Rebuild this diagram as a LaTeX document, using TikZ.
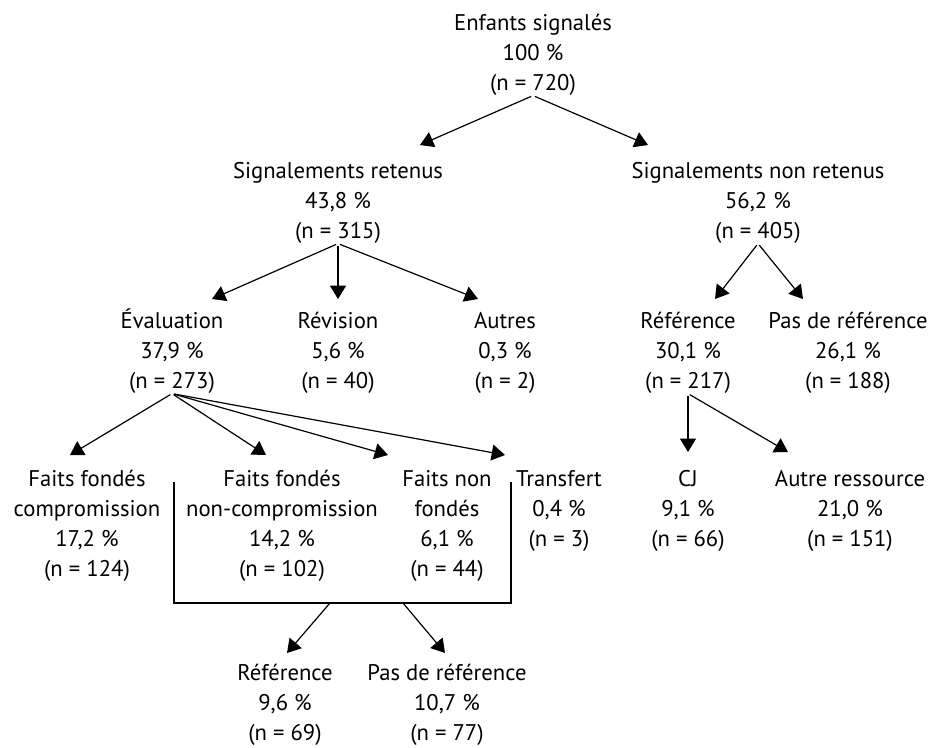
\documentclass[tikz,border=0pt]{standalone}
\usepackage{fontspec}
\setmainfont{PT Sans}
\usetikzlibrary{calc}
\usetikzlibrary{arrows.meta}
\tikzset{
  every picture/.style={
    line width=0.9pt,
    >={Triangle[width=12pt, length=10pt]}
  },
  box/.style={
    align=center, anchor=base, inner sep=0pt,
    font=\fontsize{17}{22.5}\selectfont
  }
}

\begin{document}
\begin{tikzpicture}[x=0.75pt, y=0.75pt]
      \useasboundingbox (0,0) rectangle (932,-747);
      % top levels (placed by the baseline of their last line)
      \node[box] (root) at (533,-90) {Enfants signalés\\100 \%\\(n = 720)};
      \node[box] (ret) at (338,-238) {Signalements retenus\\43,8 \%\\(n = 315)};
      \node[box] (nonret) at (758,-238) {Signalements non retenus\\56,2 \%\\(n = 405)};
      \node[box] (eval) at (172,-388) {Évaluation\\37,9 \%\\(n = 273)};
      \node[box] (rev) at (338,-388) {Révision\\5,6 \%\\(n = 40)};
      \node[box] (autres) at (505,-388) {Autres\\0,3 \%\\(n = 2)};
      \node[box] (ref) at (688,-388) {Référence\\30,1 \%\\(n = 217)};
      \node[box] (pasref) at (848,-388) {Pas de référence\\26,1 \%\\(n = 188)};
      % results of the evaluation
      \node[box] (ffc) at (87,-576) {Faits fondés\\compromission\\17,2 \%\\(n = 124)};
      \node[box] (ffnc) at (282,-576) {Faits fondés\\non-compromission\\14,2 \%\\(n = 102)};
      \node[box] (fnf) at (447,-576) {Faits non\\fondés\\6,1 \%\\(n = 44)};
      \node[box] (transf) at (559,-546) {Transfert\\0,4 \%\\(n = 3)};
      \node[box] (cj) at (688,-546) {CJ\\9,1 \%\\(n = 66)};
      \node[box] (autreres) at (850,-546) {Autre ressource\\21,0 \%\\(n = 151)};
      \node[box] (refb) at (285,-740) {Référence\\9,6 \%\\(n = 69)};
      \node[box] (pasrefb) at (447,-740) {Pas de référence\\10,7 \%\\(n = 77)};
      % arrows
      \draw[->, shorten <=1.5pt] (root.south) -- ($(ret.base)+(82,93)$);
      \draw[->, shorten <=1.5pt] (root.south) -- ($(nonret.base)+(-110,93)$);
      \draw[->, shorten <=1.5pt] (ret.south) -- ($(eval.base)+(40,89)$);
      \draw[->, shorten <=1.5pt] (ret.south) -- ($(rev.base)+(0,89)$);
      \draw[->, shorten <=1.5pt] (ret.south) -- ($(autres.base)+(-27,89)$);
      \draw[->, shorten <=1.5pt] (nonret.south) -- ($(ref.base)+(27,89)$);
      \draw[->, shorten <=1.5pt] (nonret.south) -- ($(pasref.base)+(-45,89)$);
      \draw[->, shorten <=1.5pt] (eval.south) -- ($(ffc.base)+(-17,121)$);
      \draw[->, shorten <=1.5pt] (eval.south) -- ($(ffnc.base)+(-16,121)$);
      \draw[->, shorten <=1.5pt] (eval.south) -- ($(fnf.base)+(-59,121)$);
      \draw[->, shorten <=1.5pt] (eval.south) -- ($(transf.base)+(-54,91)$);
      \draw[->, shorten <=1.5pt] (ref.south) -- ($(cj.base)+(0,94)$);
      \draw[->, shorten <=1.5pt] (ref.south) -- ($(autreres.base)+(-62,94)$);
      % bracket over the founded / unfounded facts
      \coordinate (bl) at (174,-482);
      \coordinate (br) at (511,-482);
      \coordinate (base) at (0,-603);
      \draw (bl) -- (bl|-base) -- (br|-base) -- (br);
      \coordinate (s1) at (330,-603);
      \coordinate (s2) at (403,-603);
      \draw[->] (s1) -- ($(refb.base)+(2,87)$);
      \draw[->] (s2) -- ($(pasrefb.base)+(-2,87)$);
\end{tikzpicture}
\end{document}
